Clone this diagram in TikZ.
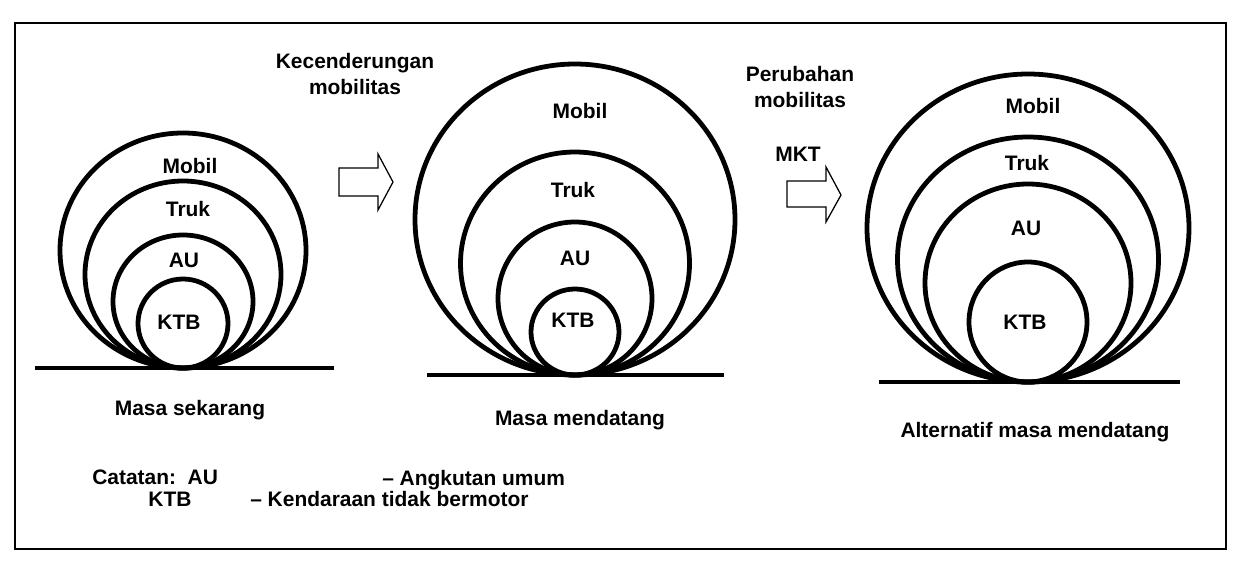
\documentclass[tikz,border=0pt]{standalone}
\usepackage{fontspec}
\setmainfont{Liberation Sans}
\usetikzlibrary{shapes}
\usetikzlibrary{arrows}

\begin{document}
\begin{tikzpicture}[x=0.025cm, y=-0.025cm, every node/.style={font=\bfseries\fontsize{14.9}{17.8}\selectfont, inner sep=0pt}]

      \tikzset{ring/.style = {line width=3.4pt}}
      \tikzset{ground/.style = {line width=2.3pt}}
      \tikzset{bigarrow/.style = {line width=0.9pt, line join=miter}}
      \useasboundingbox (0,0) rectangle (1237,565);
      \draw[line width=1pt] (15,23) rectangle (1226,549);

      % rings
      \foreach \rx/\ry in {123/117.5, 98/93.5, 70/66.5, 45/44.5}
        \draw[ring] (183,368-\ry) ellipse [x radius=\rx, y radius=\ry];
      \foreach \rx/\ry in {160/155.5, 114.5/111.5, 77/76.5, 44/43}
        \draw[ring] (575,375-\ry) ellipse [x radius=\rx, y radius=\ry];
      \foreach \rx/\ry in {161/154, 130.5/122.5, 103/99, 59/60}
        \draw[ring] (1028,382-\ry) ellipse [x radius=\rx, y radius=\ry];
      \draw[ground] (35,368) -- (334,368);
      \draw[ground] (427,375) -- (724,375);
      \draw[ground] (879,382) -- (1180,382);

      % labels
      \node (mobilA) at (190,166) {Mobil};
      \node (trukA)  at (188,209) {Truk};
      \node (auA)    at (184,260) {AU};
      \node (ktbA)   at (179,322) {KTB};
      \node (mobilB) at (580,111) {Mobil};
      \node (trukB)  at (573,190) {Truk};
      \node (auB)    at (575,258) {AU};
      \node (ktbB)   at (573,320) {KTB};
      \node (mobilC) at (1033,106) {Mobil};
      \node (trukC)  at (1027,163) {Truk};
      \node (auC)    at (1026,228) {AU};
      \node (ktbC)   at (1025,322) {KTB};

      \node (nowA)  at (190,410)  {Masa sekarang};
      \node (nowB)  at (580,420)  {Masa mendatang};
      \node (nowC)  at (1035,432) {Alternatif masa mendatang};

      \node[align=center] (trend)  at (355,74)  {Kecenderungan\\mobilitas};
      \node[align=center] (change) at (800,87)  {Perubahan\\mobilitas};
      \node (mkt) at (798,154) {MKT};

      % arrows
      \draw[bigarrow] (339,168) -- (378,168) -- (378,154) -- (393,182) -- (378,210) -- (378,196) -- (339,196) -- cycle;
      \draw[bigarrow] (787,181) -- (826,181) -- (826,167) -- (841,195) -- (826,222) -- (826,207) -- (787,207) -- cycle;

      % notes
      \node[anchor=west] (note)  at (92,477)  {Catatan:\ \ AU};
      \node (noteB) at (170,499) {KTB};
      \node[anchor=west] (auText)  at (382,480) {-- Angkutan umum};
      \node[anchor=west] (ktbText) at (250,499) {-- Kendaraan tidak bermotor};

\end{tikzpicture}
\end{document}
